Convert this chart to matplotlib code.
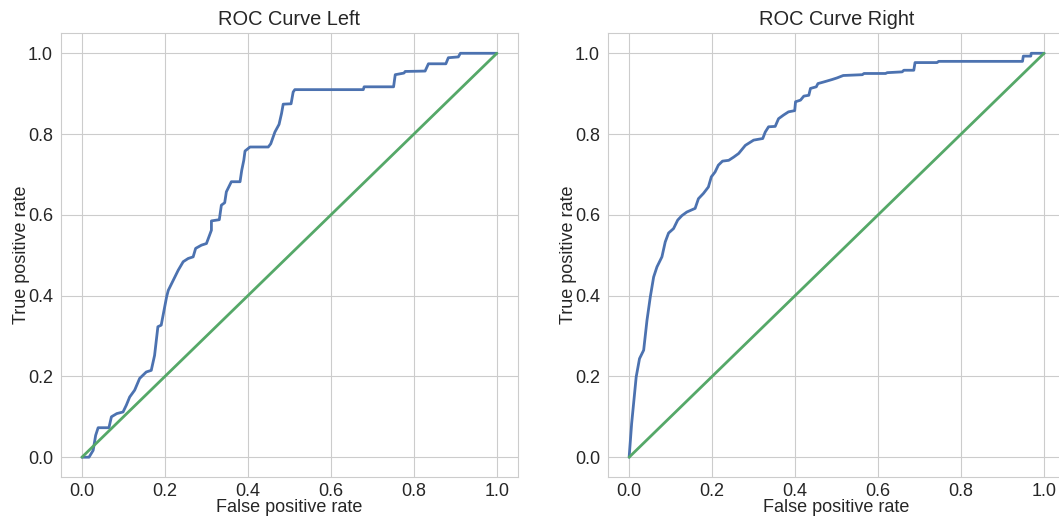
# Libraries
import matplotlib
matplotlib.use("Agg")
import matplotlib.pyplot as plt
import seaborn as sns

# Style
sns.set_style("whitegrid")
plt.rcParams['font.family'] = ['Liberation Sans', 'DejaVu Sans']
plt.rcParams['text.color'] = '.15'
plt.rcParams['axes.labelcolor'] = '.15'
plt.rcParams['xtick.color'] = '.15'
plt.rcParams['ytick.color'] = '.15'

blue, green = '#4C72B0', '#55A868'

# ROC data
fpr_left = [0.0, 0.017, 0.027, 0.033, 0.039, 0.065, 0.071, 0.084, 0.099, 0.107,
            0.115, 0.127, 0.139, 0.155, 0.167, 0.175, 0.183, 0.191, 0.204, 0.208,
            0.220, 0.232, 0.244, 0.256, 0.268, 0.274, 0.288, 0.300, 0.312, 0.312,
            0.331, 0.336, 0.344, 0.348, 0.360, 0.381, 0.385, 0.390, 0.393, 0.405,
            0.449, 0.455, 0.465, 0.475, 0.481, 0.485, 0.504, 0.509, 0.513, 0.678,
            0.680, 0.751, 0.755, 0.776, 0.779, 0.827, 0.835, 0.877, 0.883, 0.907,
            0.912, 1.0]
tpr_left = [0.0, 0.0, 0.017, 0.054, 0.073, 0.073, 0.100, 0.108, 0.112, 0.129,
            0.149, 0.166, 0.195, 0.211, 0.215, 0.252, 0.323, 0.327, 0.397, 0.413,
            0.438, 0.463, 0.484, 0.492, 0.496, 0.517, 0.525, 0.529, 0.562, 0.585,
            0.588, 0.624, 0.630, 0.657, 0.682, 0.682, 0.710, 0.735, 0.758, 0.768,
            0.768, 0.776, 0.805, 0.824, 0.851, 0.874, 0.875, 0.904, 0.910, 0.910,
            0.917, 0.917, 0.947, 0.951, 0.955, 0.956, 0.974, 0.974, 0.989, 0.991,
            1.0, 1.0]

fpr_right = [0.0, 0.006, 0.017, 0.025, 0.035, 0.043, 0.051, 0.059, 0.067, 0.079,
             0.087, 0.095, 0.107, 0.117, 0.127, 0.139, 0.159, 0.167, 0.179, 0.191,
             0.198, 0.207, 0.215, 0.225, 0.240, 0.252, 0.264, 0.280, 0.300, 0.322,
             0.328, 0.336, 0.352, 0.360, 0.372, 0.384, 0.399, 0.401, 0.413, 0.421,
             0.433, 0.437, 0.451, 0.455, 0.469, 0.489, 0.501, 0.516, 0.562, 0.566,
             0.618, 0.622, 0.658, 0.662, 0.686, 0.689, 0.742, 0.746, 0.948, 0.950,
             0.968, 0.969, 1.0]
tpr_right = [0.0, 0.083, 0.199, 0.244, 0.265, 0.339, 0.397, 0.446, 0.471, 0.496,
             0.533, 0.555, 0.566, 0.587, 0.598, 0.607, 0.616, 0.640, 0.653, 0.669,
             0.694, 0.706, 0.723, 0.733, 0.735, 0.743, 0.752, 0.772, 0.785, 0.789,
             0.805, 0.818, 0.819, 0.838, 0.847, 0.855, 0.858, 0.880, 0.884, 0.894,
             0.896, 0.913, 0.917, 0.925, 0.929, 0.935, 0.939, 0.945, 0.947, 0.950,
             0.950, 0.952, 0.954, 0.958, 0.958, 0.977, 0.977, 0.980, 0.980, 0.993,
             0.993, 1.0, 1.0]

chance = [0, 1]
ticks = [0.0, 0.2, 0.4, 0.6, 0.8, 1.0]

fig = plt.figure(figsize=(10.59, 5.17), dpi=100)
ax1 = fig.add_axes([0.0578, 0.0766, 0.4310, 0.8594])
ax2 = fig.add_axes([0.5745, 0.0766, 0.4310, 0.8594])

for ax, fpr, tpr, title in [(ax1, fpr_left, tpr_left, 'ROC Curve Left'),
                            (ax2, fpr_right, tpr_right, 'ROC Curve Right')]:
    ax.plot(fpr, tpr, color=blue, lw=2)
    ax.plot(chance, chance, color=green, lw=2)
    ax.set_xlim(-0.05, 1.05)
    ax.set_ylim(-0.05, 1.05)
    ax.set_xticks(ticks)
    ax.set_yticks(ticks)
    ax.tick_params(labelsize=13, length=0, pad=6)
    ax.tick_params(axis='x', pad=4)
    ax.set_xlabel('False positive rate', fontsize=13, labelpad=-0.5)
    ax.set_ylabel('True positive rate', fontsize=13, labelpad=-1.5)
    ax.set_title(title, fontsize=14.4, pad=6)
    for s in ax.spines.values():
        s.set_color('.8')

plt.savefig('out.png', dpi=100)
